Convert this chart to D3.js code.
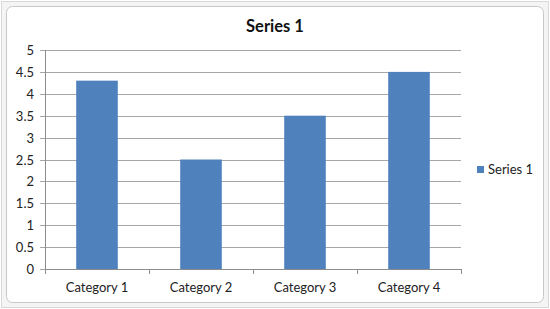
<!DOCTYPE html>
<html><head><meta charset="utf-8">
<script src="https://cdn.jsdelivr.net/npm/d3@7"></script>
<style>body{margin:0;background:#fff}svg{display:block;font-family:Lato,"Open Sans",sans-serif}</style>
</head><body><svg id="c" width="550" height="309"></svg>
<script>
const categories = ["Category 1","Category 2","Category 3","Category 4"];
const seriesName = "Series 1";
const values = [4.3, 2.5, 3.5, 4.5];
const yTicks = [0,0.5,1,1.5,2,2.5,3,3.5,4,4.5,5];

const svg = d3.select("#c");
// frame
svg.append("rect").attr("x",1.5).attr("y",1.5).attr("width",547).attr("height",306).attr("fill","#f4f4f4").attr("stroke","#d8d8d8");
svg.append("rect").attr("x",6.5).attr("y",6.5).attr("width",537).attr("height",296).attr("rx",6).attr("fill","#fff").attr("stroke","#c8c8c8");

const m = {l:45, r:461, t:50, b:269};
const x = d3.scaleBand().domain(categories).range([m.l,m.r]).paddingInner(0.6).paddingOuter(0.3);
const y = d3.scaleLinear().domain([0,5]).range([m.b,m.t]);

// gridlines
svg.append("g").selectAll("line").data(yTicks).join("line")
  .attr("x1",m.l-5).attr("x2",m.r).attr("y1",d=>Math.round(y(d))+0.5).attr("y2",d=>Math.round(y(d))+0.5)
  .attr("stroke","#a6a6a6");
// y axis line
svg.append("line").attr("x1",m.l+0.5).attr("x2",m.l+0.5).attr("y1",m.t).attr("y2",m.b+0.5).attr("stroke","#8c8c8c");
// y labels
svg.append("g").selectAll("text").data(yTicks).join("text")
  .attr("x",34).attr("y",d=>y(d)+5).attr("text-anchor","end").attr("font-size",13).attr("fill","#222")
  .text(d=>d);
// x ticks at boundaries
const bounds = d3.range(categories.length+1).map(i=>m.l+i*(m.r-m.l)/categories.length);
svg.append("g").selectAll("line").data(bounds).join("line")
  .attr("x1",d=>Math.round(d)+0.5).attr("x2",d=>Math.round(d)+0.5).attr("y1",m.b).attr("y2",m.b+5).attr("stroke","#8c8c8c");
svg.append("line").attr("x1",m.l).attr("x2",m.r).attr("y1",m.b+0.5).attr("y2",m.b+0.5).attr("stroke","#8c8c8c");
// bars
svg.append("g").selectAll("rect").data(values).join("rect")
  .attr("x",(d,i)=>x(categories[i])).attr("width",x.bandwidth())
  .attr("y",d=>y(d)).attr("height",d=>y(0)-y(d)).attr("fill","#4f81bd");
// x labels
svg.append("g").selectAll("text").data(categories).join("text")
  .attr("x",d=>x(d)+x.bandwidth()/2).attr("y",292).attr("text-anchor","middle").attr("font-size",13).attr("fill","#222")
  .text(d=>d);
// title
svg.append("text").attr("x",275).attr("y",32).attr("text-anchor","middle").attr("font-size",16.5).attr("font-weight","bold").attr("fill","#111").text(seriesName);
// legend
svg.append("rect").attr("x",477).attr("y",166).attr("width",7).attr("height",7).attr("fill","#4f81bd");
svg.append("text").attr("x",488).attr("y",174).attr("font-size",13).attr("fill","#222").text(seriesName);
</script></body></html>
